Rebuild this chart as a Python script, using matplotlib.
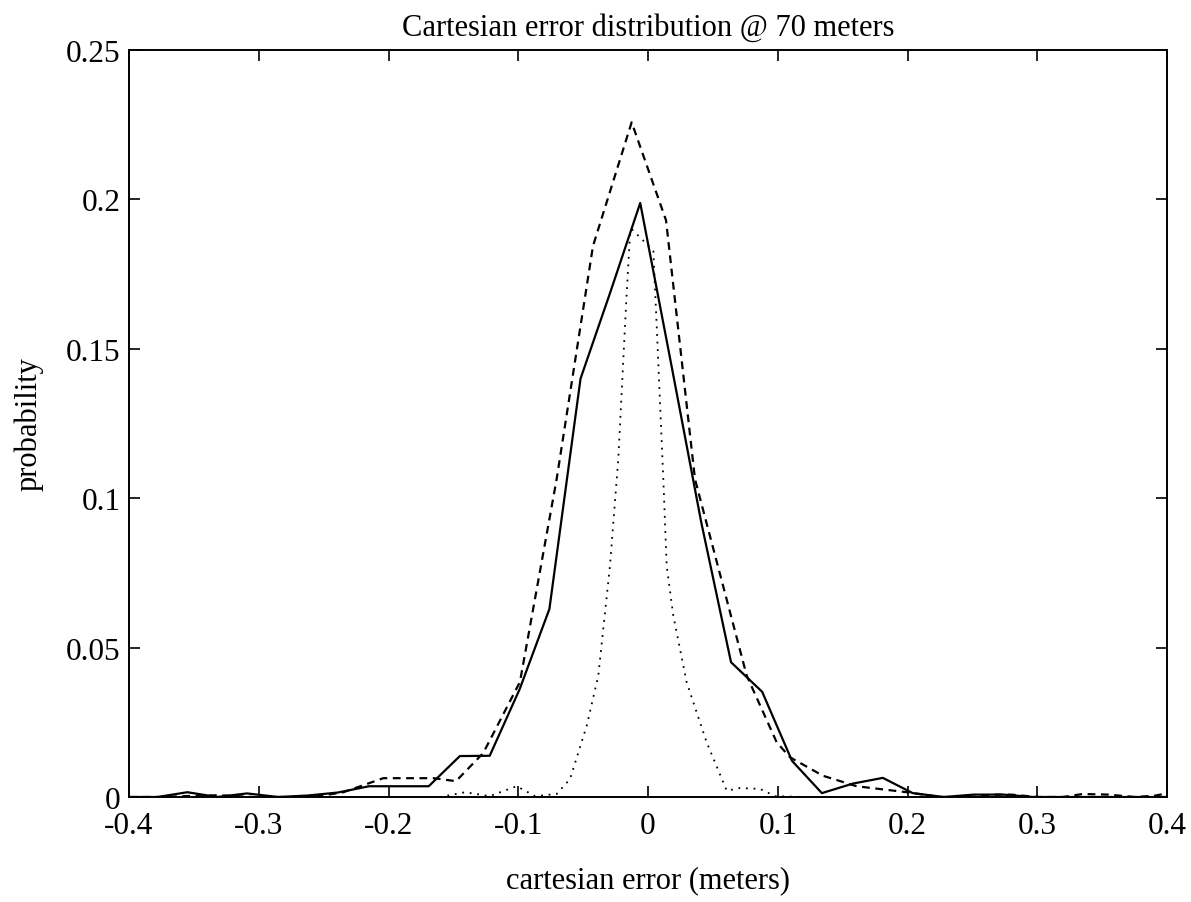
import matplotlib
matplotlib.use("Agg")
import matplotlib.pyplot as plt

plt.rcParams['font.family'] = ['Liberation Serif', 'DejaVu Serif']
plt.rcParams['axes.unicode_minus'] = False

# solid: histogram of the error
x_solid = [-0.402, -0.378, -0.355, -0.332, -0.309, -0.285, -0.262, -0.239, -0.215,
           -0.192, -0.169, -0.145, -0.122, -0.099, -0.076, -0.052, -0.029, -0.006,
           0.018, 0.041, 0.064, 0.088, 0.111, 0.134, 0.158, 0.181, 0.204, 0.228,
           0.251, 0.274, 0.297, 0.321, 0.344, 0.367, 0.391, 0.400]
y_solid = [0.0, 0.0, 0.0016, 0.0, 0.0012, 0.0, 0.0005, 0.0015, 0.0036,
           0.0036, 0.0036, 0.0137, 0.0138, 0.036, 0.0629, 0.140, 0.169, 0.1988,
           0.1446, 0.092, 0.0451, 0.0352, 0.0121, 0.0013, 0.0045, 0.0064, 0.0013, 0.0,
           0.0008, 0.0008, 0.0, 0.0, 0.0, 0.0, 0.0, 0.0]

# dashed
x_dash = [-0.400, -0.375, -0.350, -0.330, -0.305, -0.280, -0.258, -0.2348, -0.204,
          -0.1655, -0.148, -0.127, -0.0987, -0.0704, -0.0424, -0.0126, 0.0139,
          0.0362, 0.0761, 0.0992, 0.1094, 0.1349, 0.1608, 0.1994, 0.225, 0.250,
          0.265, 0.280, 0.300, 0.320, 0.335, 0.355, 0.375, 0.390, 0.400]
y_dash = [0.0, 0.0, 0.0004, 0.0006, 0.0, 0.0, 0.0, 0.0016, 0.0063,
          0.0063, 0.0053, 0.0147, 0.0385, 0.1064, 0.1844, 0.2258, 0.1930,
          0.1064, 0.0406, 0.0183, 0.0133, 0.0071, 0.0036, 0.0016, 0.0, 0.0,
          0.0008, 0.0008, 0.0, 0.0, 0.0010, 0.0008, 0.0, 0.0004, 0.0012]

# dotted
x_dot = [-0.400, -0.160, -0.141, -0.122, -0.1012, -0.087, -0.0704, -0.0601,
         -0.0472, -0.0383, -0.0293, -0.0229, -0.0164, -0.0139, -0.0126, 0.0041,
         0.0067, 0.0118, 0.0144, 0.0195, 0.0298, 0.0452, 0.0607, 0.0709, 0.0863,
         0.098, 0.120, 0.400]
y_dot = [0.0, 0.0, 0.0016, 0.0003, 0.0036, 0.0003, 0.001, 0.006,
         0.0239, 0.0406, 0.0774, 0.1131, 0.1689, 0.1879, 0.1901, 0.1828,
         0.1577, 0.1064, 0.0774, 0.0607, 0.0384, 0.0183, 0.0021, 0.003, 0.0027,
         0.0003, 0.0, 0.0]

x_ticks = [-0.4, -0.3, -0.2, -0.1, 0, 0.1, 0.2, 0.3, 0.4]
x_tick_labels = ['-0.4', '-0.3', '-0.2', '-0.1', '0', '0.1', '0.2', '0.3', '0.4']
y_ticks = [0, 0.05, 0.1, 0.15, 0.2, 0.25]
y_tick_labels = ['0', '0.05', '0.1', '0.15', '0.2', '0.25']

fig = plt.figure(figsize=(11.91, 9.03), dpi=100)
ax = fig.add_axes([129 / 1191, 105 / 903, (1167 - 129) / 1191, (798 - 51) / 903])

ax.plot(x_solid, y_solid, color='black', lw=1.6)
ax.plot(x_dash, y_dash, color='black', lw=1.6, linestyle=(0, (3.5, 2.5)))
ax.plot(x_dot, y_dot, color='black', lw=1.3, linestyle=(0, (1, 3.2)))

ax.set_xlim(-0.4, 0.4)
ax.set_ylim(0, 0.25)
ax.set_xticks(x_ticks)
ax.set_xticklabels(x_tick_labels)
ax.set_yticks(y_ticks)
ax.set_yticklabels(y_tick_labels)
ax.tick_params(direction='in', length=8, width=1.2, top=True, right=True,
               labelsize=22.5)
ax.tick_params(axis='x', pad=10)
ax.tick_params(axis='y', pad=6)
for s in ax.spines.values():
    s.set_linewidth(1.4)

ax.set_title('Cartesian error distribution @ 70 meters', fontsize=22, pad=11)
ax.set_xlabel('cartesian error (meters)', fontsize=22, labelpad=18)
ax.set_ylabel('probability', fontsize=22, labelpad=16)

fig.savefig('out.png', dpi=100)
